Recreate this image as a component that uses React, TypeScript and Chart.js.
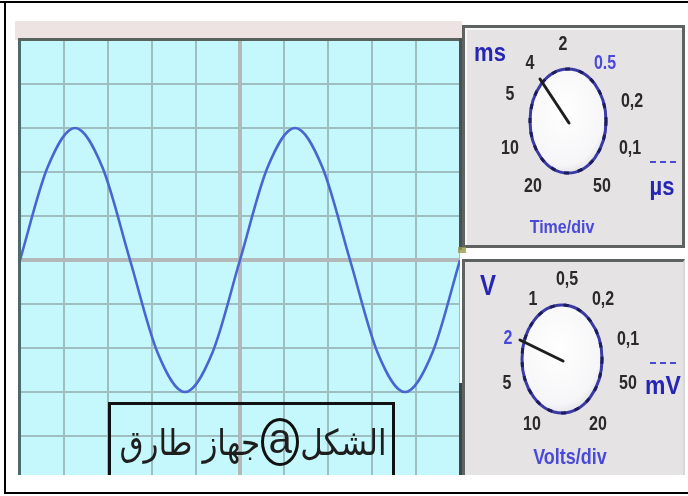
import React, { useEffect, useRef } from "react";
import { Chart, registerables } from "chart.js";

Chart.register(...registerables);

// Oscilloscope trace (divisions)
const timeDiv = [0, 0.625, 1.25, 1.875, 2.5, 3.125, 3.75, 4.375, 5, 5.625, 6.25, 6.875, 7.5, 8.125, 8.75, 9.375, 10];
const voltsDiv = [0, 2.1, 3, 2.1, 0, -2.1, -3, -2.1, 0, 2.1, 3, 2.1, 0, -2.1, -3, -2.1, 0];
const xRange = [0, 10];
const yRange = [-5, 5];

// Knob labels
const timeLabels = [
  { t: "ms", x: 490, y: 53, s: 22, b: true, c: "#2626b4", k: 1.15 },
  { t: "4", x: 530, y: 62, s: 16, b: true, c: "#2a2a2a", k: 1.3 },
  { t: "2", x: 563, y: 43, s: 16, b: true, c: "#2a2a2a", k: 1.3 },
  { t: "0.5", x: 605, y: 62, s: 16, b: true, c: "#4a4ad8", k: 1.3 },
  { t: "5", x: 510, y: 93, s: 16, b: true, c: "#2a2a2a", k: 1.3 },
  { t: "0,2", x: 632, y: 100, s: 16, b: true, c: "#2a2a2a", k: 1.3 },
  { t: "10", x: 510, y: 147, s: 16, b: true, c: "#2a2a2a", k: 1.3 },
  { t: "0,1", x: 630, y: 147, s: 16, b: true, c: "#2a2a2a", k: 1.3 },
  { t: "20", x: 533, y: 185, s: 16, b: true, c: "#2a2a2a", k: 1.3 },
  { t: "50", x: 602, y: 185, s: 16, b: true, c: "#2a2a2a", k: 1.3 },
  { t: "µs", x: 662, y: 187, s: 22, b: true, c: "#2626b4", k: 1.15 },
  { t: "Time/div", x: 562, y: 227, s: 16, b: true, c: "#4a4ad8", k: 1.2 },
];
const voltLabels = [
  { t: "V", x: 488, y: 285, s: 24, b: true, c: "#2626b4", k: 1.25 },
  { t: "0,5", x: 567, y: 278, s: 16, b: true, c: "#2a2a2a", k: 1.3 },
  { t: "1", x: 533, y: 298, s: 16, b: true, c: "#2a2a2a", k: 1.3 },
  { t: "0,2", x: 603, y: 298, s: 16, b: true, c: "#2a2a2a", k: 1.3 },
  { t: "2", x: 508, y: 337, s: 16, b: true, c: "#4a4ad8", k: 1.3 },
  { t: "0,1", x: 628, y: 338, s: 16, b: true, c: "#2a2a2a", k: 1.3 },
  { t: "5", x: 507, y: 382, s: 16, b: true, c: "#2a2a2a", k: 1.3 },
  { t: "50", x: 628, y: 382, s: 16, b: true, c: "#2a2a2a", k: 1.3 },
  { t: "mV", x: 663, y: 385, s: 23, b: true, c: "#2626b4", k: 1.15 },
  { t: "10", x: 532, y: 423, s: 16, b: true, c: "#2a2a2a", k: 1.3 },
  { t: "20", x: 598, y: 423, s: 16, b: true, c: "#2a2a2a", k: 1.3 },
  { t: "Volts/div", x: 570, y: 457, s: 18, b: true, c: "#4a4ad8", k: 1.2 },
];

const captionRight = "الشكل";
const captionLetter = "a";
const captionLeft = "جهاز طارق";

function Label({ l }: { l: any }) {
  return (
    <div
      style={{
        position: "absolute",
        left: l.x,
        top: l.y,
        transform: `translate(-50%, -50%) scaleY(${l.k})`,
        fontFamily: "'Liberation Sans', Arial, sans-serif",
        fontSize: l.s,
        fontWeight: l.b ? "bold" : "normal",
        color: l.c,
        whiteSpace: "nowrap",
        lineHeight: 1,
      }}
    >
      {l.t}
    </div>
  );
}

function Knob({ cx, cy, rx, ry, px, py }: any) {
  return (
    <g>
      <defs>
        <radialGradient id={`g${cx}`} cx="45%" cy="40%" r="65%">
          <stop offset="0%" stopColor="#ffffff" />
          <stop offset="80%" stopColor="#f6f6f8" />
          <stop offset="100%" stopColor="#dcdce4" />
        </radialGradient>
      </defs>
      <ellipse cx={cx} cy={cy} rx={rx} ry={ry} fill={`url(#g${cx})`} stroke="#3a3aa4" strokeWidth={3} />
      <ellipse cx={cx} cy={cy} rx={rx} ry={ry} fill="none" stroke="#1c1c5c" strokeWidth={3} strokeDasharray="5 9" />
      <line x1={cx + 1} y1={cy + 2} x2={px} y2={py} stroke="#1e1e1e" strokeWidth={3} strokeLinecap="round" />
    </g>
  );
}

export default function App() {
  const ref = useRef<HTMLCanvasElement | null>(null);

  useEffect(() => {
    if (!ref.current) return;
    const gridColor = (ctx: any) =>
      ctx.tick && ctx.tick.value === 5 ? "#b4b8b8" : "#9fbec2";
    const gridColorY = (ctx: any) =>
      ctx.tick && ctx.tick.value === 0 ? "#b4b8b8" : "#9fbec2";
    const chart = new Chart(ref.current, {
      type: "line",
      data: {
        datasets: [
          {
            data: timeDiv.map((x, i) => ({ x, y: voltsDiv[i] })),
            borderColor: "#4866d2",
            borderWidth: 2.6,
            pointRadius: 0,
            cubicInterpolationMode: "monotone",
            fill: false,
          },
        ],
      },
      options: {
        animation: false,
        responsive: false,
        devicePixelRatio: 1,
        layout: { padding: 0 },
        plugins: { legend: { display: false }, tooltip: { enabled: false } },
        scales: {
          x: {
            type: "linear",
            min: xRange[0],
            max: xRange[1],
            ticks: { display: false, stepSize: 1 },
            grid: {
              drawTicks: false,
              color: gridColor,
              lineWidth: (ctx: any) => (ctx.tick && ctx.tick.value === 5 ? 4 : 2),
            },
            border: { display: false },
          },
          y: {
            type: "linear",
            min: yRange[0],
            max: yRange[1],
            ticks: { display: false, stepSize: 1 },
            grid: {
              drawTicks: false,
              color: gridColorY,
              lineWidth: (ctx: any) => (ctx.tick && ctx.tick.value === 0 ? 4 : 2),
            },
            border: { display: false },
          },
        },
      },
    });
    return () => chart.destroy();
  }, []);

  return (
    <div style={{ position: "absolute", left: 0, top: 0, width: 688, height: 496, background: "#ffffff", overflow: "hidden" }}>
      {/* outer frame */}
      <div style={{ position: "absolute", left: 0, top: 1, width: 688, height: 2, background: "#000" }} />
      <div style={{ position: "absolute", left: 4, top: 1, width: 2, height: 493, background: "#000" }} />
      <div style={{ position: "absolute", left: 4, top: 492, width: 684, height: 2, background: "#000" }} />

      {/* band above the screen */}
      <div style={{ position: "absolute", left: 15, top: 21, width: 447, height: 19, background: "#ede3e3" }} />

      {/* screen */}
      <div style={{ position: "absolute", left: 20, top: 40, width: 440, height: 435, overflow: "hidden", background: "#c4f8fc" }}>
        <canvas ref={ref} width={440} height={440} style={{ position: "absolute", left: 0, top: 0, width: 440, height: 440 }} />
        {/* caption box */}
        <div
          style={{
            position: "absolute",
            left: 88,
            top: 362,
            width: 281,
            height: 120,
            borderTop: "3px solid #111",
            borderLeft: "3px solid #111",
            borderRight: "3px solid #111",
          }}
        />
        <div
          dir="rtl"
          style={{
            position: "absolute",
            left: 91,
            top: 377,
            width: 284,
            height: 50,
            display: "flex",
            alignItems: "center",
            justifyContent: "center",
            fontFamily: "'DejaVu Sans', sans-serif",
            fontSize: 31,
            fontWeight: "normal",
            color: "#1e1e1e",
            whiteSpace: "nowrap",
          }}
        >
          <span style={{ transform: "scaleY(1.15)", display: "inline-block" }}>{captionRight}</span>
          <span
            style={{
              display: "inline-flex",
              alignItems: "center",
              justifyContent: "center",
              width: 38,
              height: 48,
              border: "3px solid #111",
              borderRadius: "50%",
              boxSizing: "border-box",
              fontFamily: "'Liberation Sans', sans-serif",
              fontWeight: "normal",
              fontSize: 42,
              lineHeight: 1,
              margin: "0 1px",
            }}
          >
            <span style={{ marginTop: -7 }}>{captionLetter}</span>
          </span>
          <span style={{ transform: "scaleY(1.15)", display: "inline-block" }}>{captionLeft}</span>
        </div>
      </div>
      {/* screen border */}
      <div style={{ position: "absolute", left: 18, top: 38, width: 3, height: 437, background: "#4c6a6e" }} />
      <div style={{ position: "absolute", left: 18, top: 38, width: 443, height: 3, background: "#58625f" }} />
      <div style={{ position: "absolute", left: 459, top: 38, width: 3, height: 212, background: "#4a5250" }} />
      <div style={{ position: "absolute", left: 459, top: 383, width: 3, height: 92, background: "#3e4644" }} />

      {/* time/div panel */}
      <div
        style={{
          position: "absolute",
          left: 462,
          top: 25,
          width: 223,
          height: 223,
          boxSizing: "border-box",
          background: "#e5e3e3",
          border: "3px solid #5e6260",
          boxShadow: "inset 2px 2px 0 #f6f6f6",
        }}
      />
      {/* volts/div panel */}
      <div
        style={{
          position: "absolute",
          left: 462,
          top: 259,
          width: 223,
          height: 216,
          boxSizing: "border-box",
          background: "#e5e3e3",
          borderTop: "3px solid #5e6260",
          borderLeft: "3px solid #5e6260",
          borderRight: "2px solid #d8d8d8",
        }}
      />
      <div style={{ position: "absolute", left: 458, top: 247, width: 8, height: 6, background: "#9a9a50", opacity: 0.8 }} />

      <svg width={688} height={496} style={{ position: "absolute", left: 0, top: 0 }}>
        <Knob cx={568} cy={121} rx={38} ry={52} px={540} py={79} />
        <Knob cx={562} cy={359} rx={40} ry={54} px={520} py={340} />
      </svg>

      {/* dashed unit marks */}
      <div style={{ position: "absolute", left: 650, top: 161, width: 26, height: 0, borderTop: "2px dashed #4a4ad8" }} />
      <div style={{ position: "absolute", left: 650, top: 362, width: 26, height: 0, borderTop: "2px dashed #4a4ad8" }} />

      {timeLabels.map((l, i) => (
        <Label key={"t" + i} l={l} />
      ))}
      {voltLabels.map((l, i) => (
        <Label key={"v" + i} l={l} />
      ))}
    </div>
  );
}
